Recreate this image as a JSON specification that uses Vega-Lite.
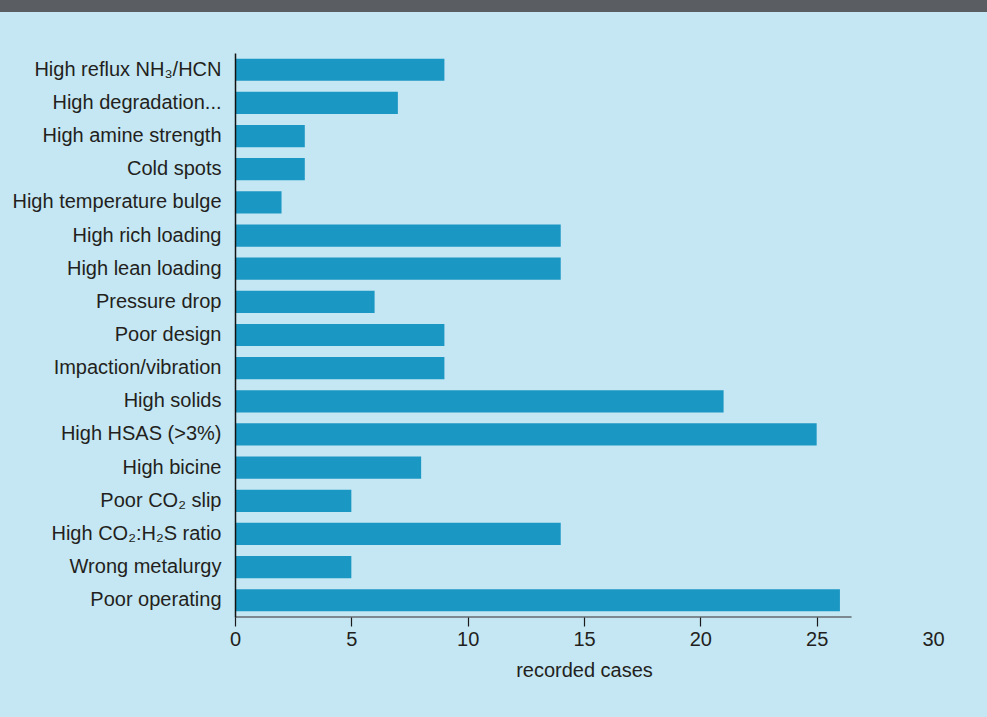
{
  "$schema": "https://vega.github.io/schema/vega-lite/v6.json",
  "background": "#c5e7f3",
  "padding": {"left": 0, "top": 0, "right": 0, "bottom": 40},
  "bounds": "flush",
  "spacing": 41,
  "config": {
    "view": {"stroke": null},
    "font": "Liberation Sans, Arial, sans-serif"
  },
  "vconcat": [
    {
      "width": 987,
      "height": 12,
      "view": {"fill": "#5a5e63", "stroke": null},
      "data": {"values": []},
      "mark": "point"
    },
    {
      "bounds": "flush",
      "spacing": 0,
      "hconcat": [
        {
          "width": 235,
          "height": 564,
          "data": {"values": []},
          "mark": "point"
        },
        {
          "width": 698,
          "height": 564,
          "layer": [
            {
              "data": {
                "values": [
                  {"cause": "High reflux NH₃/HCN", "cases": 9},
                  {"cause": "High degradation...", "cases": 7},
                  {"cause": "High amine strength", "cases": 3},
                  {"cause": "Cold spots", "cases": 3},
                  {"cause": "High temperature bulge", "cases": 2},
                  {"cause": "High rich loading", "cases": 14},
                  {"cause": "High lean loading", "cases": 14},
                  {"cause": "Pressure drop", "cases": 6},
                  {"cause": "Poor design", "cases": 9},
                  {"cause": "Impaction/vibration", "cases": 9},
                  {"cause": "High solids", "cases": 21},
                  {"cause": "High HSAS (>3%)", "cases": 25},
                  {"cause": "High bicine", "cases": 8},
                  {"cause": "Poor CO₂ slip", "cases": 5},
                  {"cause": "High CO₂:H₂S ratio\u00a0", "cases": 14},
                  {"cause": "Wrong metalurgy", "cases": 5},
                  {"cause": "Poor operating", "cases": 26}
                ]
              },
              "mark": {"type": "bar", "color": "#1b97c3"},
              "encoding": {
                "y": {
                  "field": "cause",
                  "type": "nominal",
                  "sort": null,
                  "scale": {"paddingInner": 0.33, "paddingOuter": 0.17},
                  "axis": {
                    "title": null,
                    "ticks": false,
                    "domain": true,
                    "domainColor": "#111111",
                    "domainWidth": 1.5,
                    "labelPadding": 14,
                    "labelFontSize": 20,
                    "labelColor": "#231f20",
                    "labelLimit": 0,
                    "zindex": 1
                  }
                },
                "x": {
                  "field": "cases",
                  "type": "quantitative",
                  "scale": {"domain": [0, 30], "nice": false},
                  "axis": {
                    "title": "recorded cases",
                    "titleFontSize": 20,
                    "titleFontWeight": "normal",
                    "titleColor": "#231f20",
                    "titlePadding": 11,
                    "values": [0, 5, 10, 15, 20, 25, 30],
                    "grid": false,
                    "domain": false,
                    "tickColor": "#1a1a1a",
                    "tickSize": 9,
                    "tickWidth": 1.2,
                    "tickOpacity": {"condition": {"test": "datum.value == 30", "value": 0}, "value": 1},
                    "labelFontSize": 20,
                    "labelColor": "#231f20",
                    "labelPadding": 3,
                    "labelFlush": false,
                    "zindex": 1
                  }
                }
              }
            },
            {
              "data": {"values": [{"from": 0, "to": 26.5}]},
              "mark": {"type": "rule", "color": "#7d8990", "strokeWidth": 2},
              "encoding": {
                "x": {"field": "from", "type": "quantitative"},
                "x2": {"field": "to"},
                "y": {"datum": 0, "type": "quantitative", "scale": {"domain": [0, 1]}, "axis": null}
              }
            }
          ],
          "resolve": {"scale": {"y": "independent"}}
        }
      ]
    }
  ]
}
